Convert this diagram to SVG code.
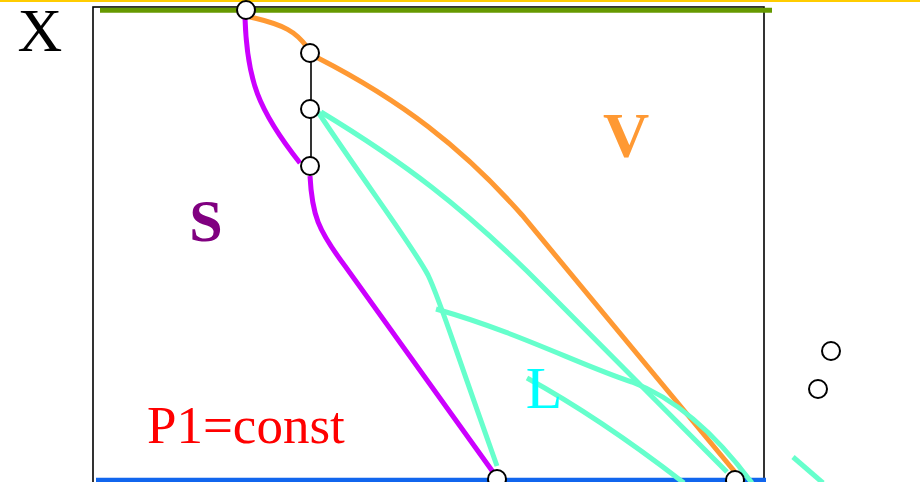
<svg xmlns="http://www.w3.org/2000/svg" width="920" height="482" viewBox="0 0 920 482">
<style>
.frame{fill:none;stroke:#000;stroke-width:1.6}
.c{fill:none;stroke-width:5;stroke-linecap:butt}
.or{stroke:#FF9933}
.pu{stroke:#CC00FF}
.aq{stroke:#66FFCC}
.pt{fill:#fff;stroke:#000;stroke-width:2}
.tie{stroke:#000;stroke-width:1.6}
.lab{font-family:"Liberation Serif","Times New Roman",serif}
</style>
<rect width="920" height="482" fill="#fff"/>
<line x1="0" y1="1" x2="920" y2="1" stroke="#FFCC00" stroke-width="2"/>
<rect class="frame" x="93" y="7" width="671" height="476"/>
<line x1="100" y1="10.3" x2="772" y2="10.3" stroke="#669900" stroke-width="5"/>
<line x1="96" y1="480" x2="766" y2="480" stroke="#1166EE" stroke-width="4.5"/>
<g id="connectors">
<line class="tie" x1="311" y1="53" x2="311" y2="166"/>
<path class="c or" d="M250,17 C285,25 296,32 307,47"/>
<path class="c or" d="M318,58 C400,100 462,147 522,215 L735,472"/>
<path class="c pu" d="M245,18 C247,80 258,110 300,163"/>
<path class="c pu" d="M310,176 C312,215 318,230 345,266 L493,472"/>
<path class="c aq" d="M318,112 C370,190 412,245 428,275 C440,300 445,320 497,466"/>
<path class="c aq" d="M321,112 C400,160 462,205 545,289 L727,472"/>
<path class="c aq" d="M436,309 C520,333 580,365 632,382 C680,400 720,440 752,483"/>
<path class="c aq" d="M527,378 Q600,418 684,483"/>
<path class="c aq" d="M793,457 L823,483"/>
</g>
<g id="n1"><circle class="pt" cx="246" cy="10" r="9"/></g>
<g id="n2"><circle class="pt" cx="310" cy="53" r="9"/></g>
<g id="n3"><circle class="pt" cx="310" cy="109" r="9"/></g>
<g id="n4"><circle class="pt" cx="310" cy="166" r="9"/></g>
<g id="n5"><circle class="pt" cx="497" cy="479" r="9"/></g>
<g id="n6"><circle class="pt" cx="735" cy="480" r="9"/></g>
<g id="n7"><circle class="pt" cx="831" cy="351" r="9"/></g>
<g id="n8"><circle class="pt" cx="818" cy="389" r="9"/></g>
<g id="label-x"><text class="lab" x="40" y="51" font-size="62" text-anchor="middle" fill="#000">X</text></g>
<g id="label-v"><text class="lab" x="626" y="157" font-size="64" font-weight="bold" text-anchor="middle" fill="#FF9933">V</text></g>
<g id="label-s"><text class="lab" x="206" y="241" font-size="60" font-weight="bold" text-anchor="middle" fill="#800080">S</text></g>
<g id="label-l"><text class="lab" x="544" y="408" font-size="60" text-anchor="middle" fill="#00FFFF">L</text></g>
<g id="label-p"><text class="lab" x="147" y="443" font-size="53" fill="#FF0000">P1=const</text></g>
</svg>
